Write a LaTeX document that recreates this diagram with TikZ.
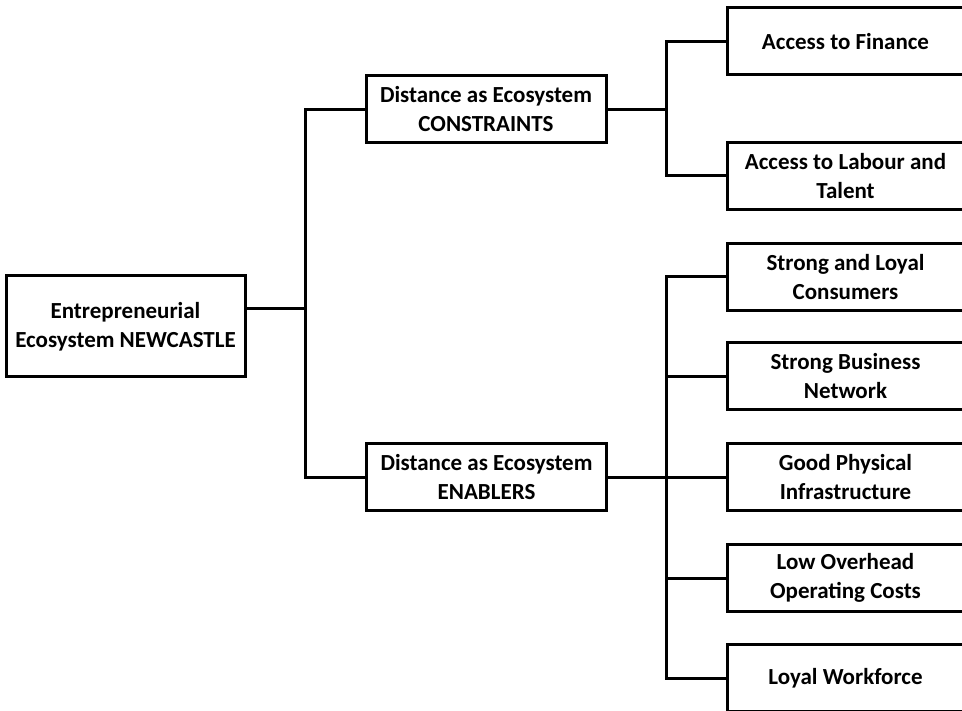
\documentclass[tikz,border=0pt]{standalone}
\usepackage{fontspec}
\setmainfont{Carlito}
\begin{document}
\begin{tikzpicture}[x=1pt,y=-1pt,
  box/.style={draw=black, line width=3pt, fill=white, inner sep=0pt, align=center,
    font=\fontsize{23}{29}\selectfont\bfseries},
  rbox/.style={box, minimum width=237pt, minimum height=67pt},
  mbox/.style={box, minimum width=240pt, minimum height=67pt},
  link/.style={draw=black, line width=3pt}]
\clip (0,0) rectangle (962,711);
\fill[white] (0,0) rectangle (962,711);
% nodes
\node[box, minimum width=239pt, minimum height=101pt] (root) at (125.5,326.5) {Entrepreneurial\\Ecosystem NEWCASTLE};
\node[mbox] (cons) at (486,109.5) {Distance as Ecosystem\\CONSTRAINTS};
\node[mbox] (enab) at (486.5,477) {Distance as Ecosystem\\ENABLERS};
\node[rbox] (fin) at (845.5,41.5) {Access to Finance};
\node[rbox] (lab) at (845.5,176) {Access to Labour and\\Talent};
\node[rbox] (sl) at (845.5,277) {Strong and Loyal\\Consumers};
\node[rbox] (sb) at (845.5,376.5) {Strong Business\\Network};
\node[rbox] (gp) at (845.5,477) {Good Physical\\Infrastructure};
\node[rbox] (lo) at (845.5,578) {Low Overhead\\Operating Costs};
\node[rbox] (lw) at (845.5,678) {Loyal Workforce};
% junctions
\coordinate (t) at (305,309);
\coordinate (b1) at (666,109.5);
\coordinate (b2) at (666,477);
% connectors
\draw[link] (root.east |- t) -- (t);
\draw[link] (cons.west) -| (t) |- (enab.west);
\draw[link] (cons.east) -- (b1);
\draw[link] (fin.west) -| (b1) |- (lab.west);
\draw[link] (enab.east) -- (gp.west);
\draw[link] (sl.west) -| (b2) |- (lw.west);
\draw[link] (b2 |- sb.west) -- (sb.west);
\draw[link] (b2 |- lo.west) -- (lo.west);
\end{tikzpicture}
\end{document}
